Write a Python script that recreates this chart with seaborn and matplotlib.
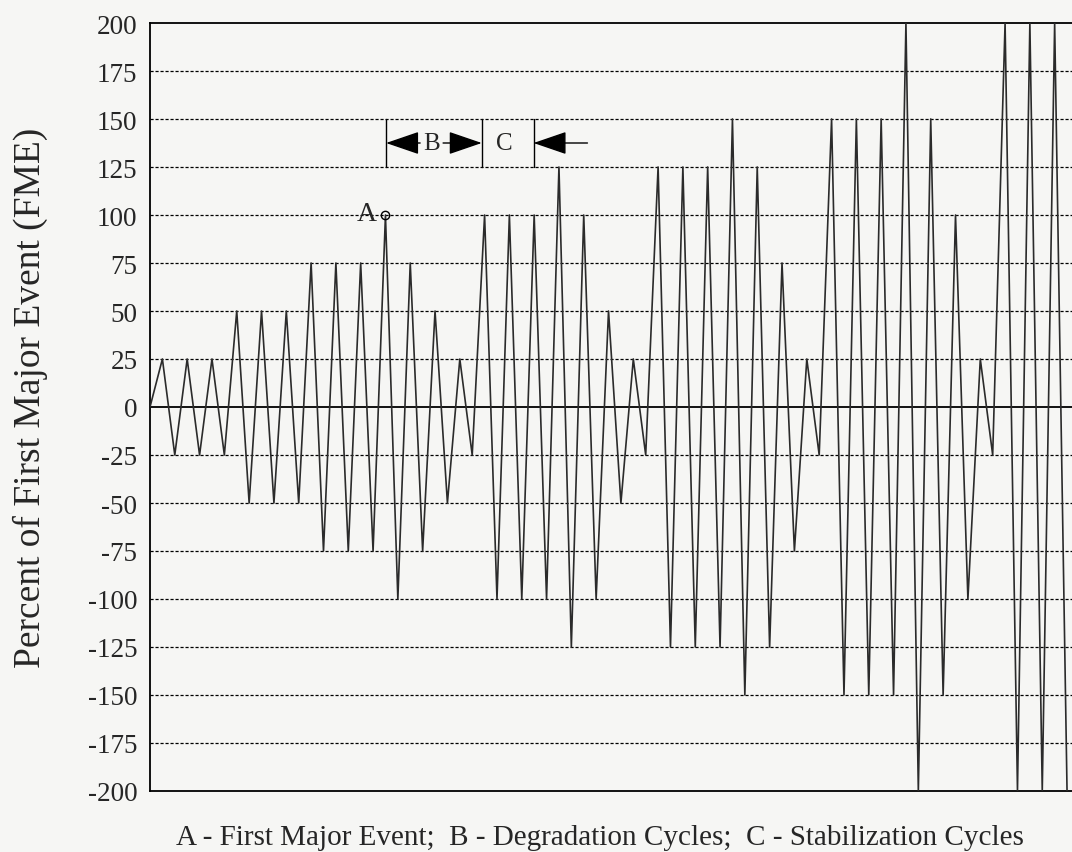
import matplotlib
matplotlib.use("Agg")
import matplotlib.pyplot as plt
import seaborn as sns
import pandas as pd

sns.set_style("white")
plt.rcParams['font.family'] = ['Liberation Serif', 'DejaVu Serif']

# peak / trough sequence of the loading protocol (percent of FME)
fme_pct = [0,
           25, -25, 25, -25, 25, -25,
           50, -50, 50, -50, 50, -50,
           75, -75, 75, -75, 75, -75,
           100, -100,
           75, -75, 50, -50, 25, -25,
           100, -100, 100, -100, 100, -100,
           125, -125,
           100, -100, 50, -50, 25, -25,
           125, -125, 125, -125, 125, -125,
           150, -150,
           125, -125, 75, -75, 25, -25,
           150, -150, 150, -150, 150, -150,
           200, -200,
           150, -150, 100, -100, 25, -25,
           200, -200, 200, -200, 200, -200]
step = list(range(len(fme_pct)))
y_ticks = list(range(-200, 201, 25))
fme_step = 19          # first major event
b_start, b_end = 19.05, 26.77
c_end = 30.95

df = pd.DataFrame({'step': step, 'pct': fme_pct})

fig = plt.figure(figsize=(10.72, 8.53), dpi=100)
fig.patch.set_facecolor('#f6f6f4')
ax = fig.add_axes([150 / 1072, 1 - 792 / 853, 922 / 1072, 768 / 853])
ax.set_facecolor('#f6f6f4')

for t in y_ticks[1:-1]:
    if t != 0:
        ax.axhline(t, color='black', lw=0.9, ls=(0, (2.5, 1.5)), zorder=1)
ax.axhline(0, color='black', lw=1.3, zorder=2)

sns.lineplot(data=df, x='step', y='pct', ax=ax, color='#2b2b2b', lw=1.2,
             zorder=3)

ax.set_xlim(0, 74.4)
ax.set_ylim(-200, 200)
ax.set_yticks(y_ticks)
ax.set_yticklabels([str(t) for t in y_ticks])
ax.set_xticks([])
ax.tick_params(axis='y', length=0, pad=9, labelsize=19.5)
ax.set_xlabel('')
ax.set_ylabel('Percent of First Major Event (FME)', fontsize=27)
ax.yaxis.set_label_coords(-0.1105, 0.513)
for side in ['top', 'left', 'bottom']:
    ax.spines[side].set_color('black')
    ax.spines[side].set_linewidth(1.3)
ax.spines['right'].set_visible(False)

# point A
ax.plot([fme_step], [fme_pct[fme_step]], marker='o', ms=6, mfc='none',
        mec='black', mew=1.0, zorder=4)
ax.annotate('A', xy=(fme_step, fme_pct[fme_step]), xytext=(-6, -3.4),
            textcoords='offset points', ha='right', va='baseline', fontsize=20)

# B / C brackets
for xb in [b_start, b_end, c_end]:
    ax.plot([xb, xb], [125, 150], color='black', lw=1.0, zorder=4)
arrow_y = 137.5
head = dict(arrowstyle='-|>,head_length=2.1,head_width=0.72', color='black',
            lw=1.0, shrinkA=0, shrinkB=0, mutation_scale=10)
ax.annotate('', xy=(b_start, arrow_y), xytext=(21.8, arrow_y), arrowprops=head)
ax.annotate('', xy=(b_end, arrow_y), xytext=(23.65, arrow_y), arrowprops=head)
ax.annotate('', xy=(c_end, arrow_y), xytext=(35.3, arrow_y), arrowprops=head)
ax.text(22.75, arrow_y, 'B', ha='center', va='center', fontsize=18)
ax.text(28.6, arrow_y, 'C', ha='center', va='center', fontsize=18)

fig.text(600 / 1072, 1 - 845 / 853,
         'A - First Major Event;  B - Degradation Cycles;  C - Stabilization Cycles',
         ha='center', va='baseline', fontsize=21)

fig.savefig('out.png', dpi=100, facecolor=fig.get_facecolor())
